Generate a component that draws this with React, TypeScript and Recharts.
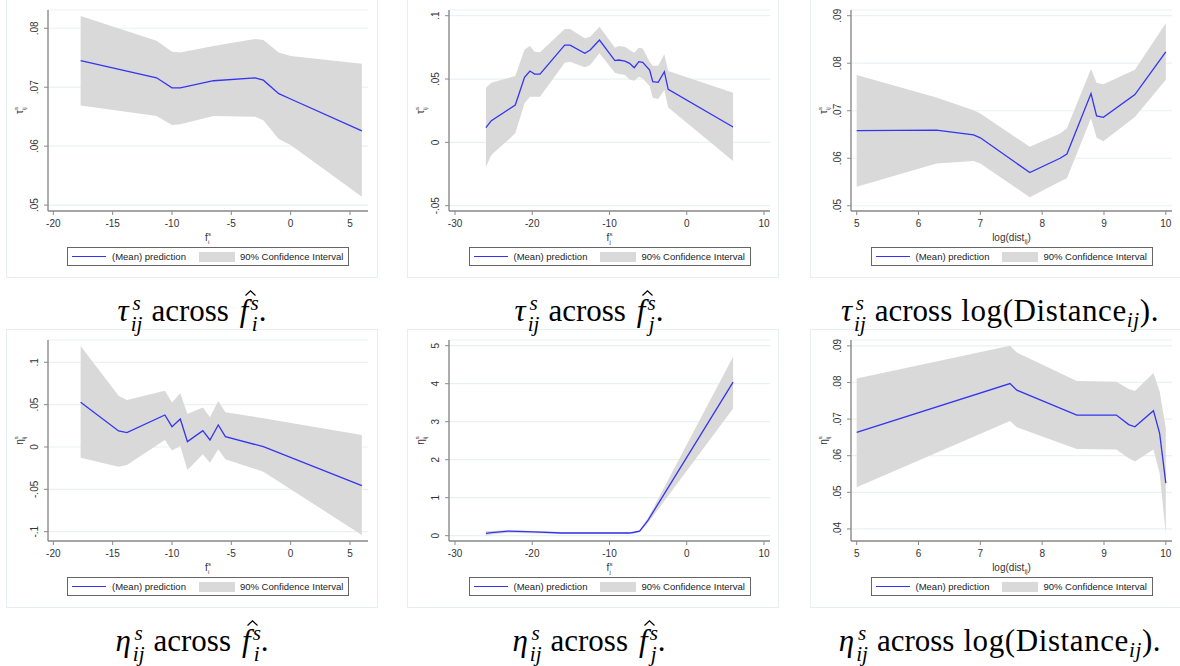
import React from 'react';
import { ComposedChart, Area, Line, XAxis, YAxis, CartesianGrid } from 'recharts';

// tau across f_i
const tauFiX = [-17.7, -11.3, -10.0, -9.3, -6.5, -3.0, -2.3, -1.0, 0.0, 6.0];
const tauFiMean = [0.0745, 0.0716, 0.0699, 0.0699, 0.0711, 0.0716, 0.0712, 0.0689, 0.068, 0.0626];
const tauFiHi = [0.0821, 0.0779, 0.076, 0.0759, 0.077, 0.0782, 0.078, 0.0759, 0.0753, 0.074];
const tauFiLo = [0.0669, 0.0651, 0.0636, 0.0637, 0.0651, 0.065, 0.0644, 0.0612, 0.0602, 0.0514];

// tau across f_j
const tauFjX = [-26.0, -25.3, -22.2, -21.0, -20.3, -19.7, -19.0, -15.8, -15.1, -13.2, -12.5, -11.3, -9.3, -8.8, -8.0, -7.4, -6.8, -6.2, -5.7, -4.8, -4.4, -3.7, -2.9, -2.4, 6.0];
const tauFjMean = [0.0116, 0.0171, 0.0295, 0.0513, 0.0563, 0.0539, 0.0539, 0.0768, 0.0768, 0.0703, 0.0729, 0.0808, 0.0645, 0.065, 0.0642, 0.0624, 0.0589, 0.0637, 0.0632, 0.0571, 0.0479, 0.0474, 0.0558, 0.0418, 0.0121];
const tauFjHi = [0.0432, 0.0471, 0.0524, 0.0734, 0.076, 0.0716, 0.0711, 0.0895, 0.0895, 0.0821, 0.0834, 0.0913, 0.0747, 0.076, 0.0755, 0.0729, 0.0708, 0.0747, 0.0742, 0.0637, 0.0605, 0.0605, 0.0695, 0.0563, 0.0392];
const tauFjLo = [-0.0192, -0.01, 0.0071, 0.0308, 0.0361, 0.0361, 0.0361, 0.0629, 0.0637, 0.0592, 0.0611, 0.0703, 0.055, 0.0539, 0.0532, 0.0497, 0.0487, 0.0518, 0.0505, 0.0445, 0.0353, 0.0342, 0.0413, 0.0276, -0.0147];

// tau across log distance
const tauDistX = [5.0, 6.29, 6.89, 7.0, 7.8, 8.29, 8.4, 8.79, 8.88, 8.99, 9.5, 10.0];
const tauDistMean = [0.0658, 0.0659, 0.0649, 0.0643, 0.057, 0.06, 0.0609, 0.0736, 0.0689, 0.0686, 0.0734, 0.0824];
const tauDistHi = [0.0775, 0.0728, 0.0701, 0.0694, 0.0624, 0.0652, 0.0663, 0.0788, 0.0759, 0.0756, 0.0786, 0.0884];
const tauDistLo = [0.054, 0.0589, 0.0594, 0.0589, 0.0518, 0.0551, 0.0558, 0.0684, 0.0643, 0.0636, 0.0687, 0.0765];

// eta across f_i
const etaFiX = [-17.7, -14.5, -13.8, -10.6, -10.0, -9.3, -8.7, -7.4, -6.8, -6.1, -5.5, -2.3, 6.0];
const etaFiMean = [0.0528, 0.0189, 0.0169, 0.0378, 0.024, 0.0331, 0.0063, 0.0193, 0.0083, 0.026, 0.0122, 0.0004, -0.0457];
const etaFiHi = [0.1193, 0.0606, 0.0555, 0.0665, 0.0524, 0.0634, 0.039, 0.0465, 0.035, 0.0543, 0.0409, 0.0339, 0.0142];
const etaFiLo = [-0.0126, -0.0232, -0.0213, 0.0083, -0.0043, 0.0012, -0.0272, -0.0087, -0.0185, -0.0028, -0.0146, -0.0291, -0.1039];

// eta across f_j
const etaFjX = [-26.0, -25.3, -23.1, -19.7, -16.2, -7.4, -6.8, -6.1, -5.0, 6.0];
const etaFjMean = [0.06, 0.08, 0.12, 0.1, 0.07, 0.07, 0.09, 0.12, 0.41, 4.04];
const etaFjHi = [0.12, 0.12, 0.15, 0.12, 0.1, 0.1, 0.11, 0.15, 0.47, 4.71];
const etaFjLo = [0.0, 0.03, 0.08, 0.06, 0.05, 0.05, 0.06, 0.09, 0.34, 3.35];

// eta across log distance
const etaDistX = [5.0, 7.48, 7.59, 8.56, 9.2, 9.4, 9.5, 9.8, 9.9, 10.0];
const etaDistMean = [0.0664, 0.0797, 0.0779, 0.0711, 0.0711, 0.0685, 0.0679, 0.0723, 0.0661, 0.0525];
const etaDistHi = [0.0811, 0.09, 0.0882, 0.0804, 0.0802, 0.0782, 0.0777, 0.0826, 0.0775, 0.0675];
const etaDistLo = [0.0514, 0.0695, 0.0678, 0.0618, 0.0617, 0.0593, 0.0584, 0.0617, 0.0552, 0.0386];

// axis ticks
const fiTicks = [-20, -15, -10, -5, 0, 5];
const fjTicks = [-30, -20, -10, 0, 10];
const distTicks = [5, 6, 7, 8, 9, 10];
const tauFiYTicks = [0.05, 0.06, 0.07, 0.08];
const tauFjYTicks = [-0.05, 0, 0.05, 0.1];
const tauDistYTicks = [0.05, 0.06, 0.07, 0.08, 0.09];
const etaFiYTicks = [-0.1, -0.05, 0, 0.05, 0.1];
const etaFjYTicks = [0, 1, 2, 3, 4, 5];
const etaDistYTicks = [0.04, 0.05, 0.06, 0.07, 0.08, 0.09];

const legendLabels = ['(Mean) prediction', '90% Confidence Interval'];

const SANS = '"Liberation Sans", Arial, sans-serif';
const SERIF = '"Liberation Serif", "DejaVu Serif", serif';
const LINE = '#3434f2';
const BAND = '#d9d9d9';
const AXIS = '#8a8a8a';
const GRID = '#e9f2f3';
const TXT = '#333';

// stata style: .05, -.1, 0
const fmt = (v: number) => {
  if (v === 0) return '0';
  const s = String(Math.abs(v)).replace(/^0\./, '.');
  return (v < 0 ? '-' : '') + s;
};

const XTick = (props: any) => {
  const { x, y, payload } = props;
  return (
    <text x={x} y={y} dy="0.71em" textAnchor="middle" fontSize={10} fill={TXT} fontFamily={SANS}>
      {fmt(payload.value)}
    </text>
  );
};

const YTick = (props: any) => {
  const { x, y, payload } = props;
  const cx = x - 5;
  return (
    <text x={cx} y={y} dy="0.35em" textAnchor="middle" fontSize={10} fill={TXT} fontFamily={SANS}
      transform={`rotate(-90 ${cx} ${y})`}>
      {fmt(payload.value)}
    </text>
  );
};

const YTitle = ({ viewBox, sym }: any) => {
  const cx = viewBox.x + 12;
  const cy = viewBox.y + viewBox.height / 2;
  return (
    <text x={cx} y={cy} dy="0.35em" textAnchor="middle" fontSize={10} fill={TXT} fontFamily={SANS}
      transform={`rotate(-90 ${cx} ${cy})`}>
      {sym}
      <tspan fontSize={6} dy={-5}>s</tspan>
      <tspan fontSize={6} dx={-3} dy={8}>ij</tspan>
    </text>
  );
};

const XTitle = ({ viewBox, kind }: any) => {
  const cx = viewBox.x + viewBox.width / 2;
  const cy = viewBox.y + 26;
  if (kind === 'dist') {
    return (
      <text x={cx} y={cy} dy="0.35em" textAnchor="middle" fontSize={10} fill={TXT} fontFamily={SANS}>
        log(dist<tspan fontSize={7} dy={3}>ij</tspan><tspan dy={-3}>)</tspan>
      </text>
    );
  }
  return (
    <text x={cx} y={cy} dy="0.35em" textAnchor="middle" fontSize={10} fill={TXT} fontFamily={SANS}>
      f<tspan fontSize={6} dy={-5}>s</tspan>
      <tspan fontSize={6} dx={-3} dy={8}>{kind === 'fi' ? 'i' : 'j'}</tspan>
    </text>
  );
};

type PanelProps = {
  left: number;
  top: number;
  width: number;
  plotLeft: number;
  plotRight: number;
  xDomain: [number, number];
  xTicks: number[];
  yDomain: [number, number];
  yTicks: number[];
  xs: number[];
  mean: number[];
  lo: number[];
  hi: number[];
  sym: string;
  xKind: 'fi' | 'fj' | 'dist';
};

const ChartLegend = ({ center }: { center: number }) => (
  <div style={{
    position: 'absolute', left: center - 141, top: 247, width: 282, height: 19, boxSizing: 'border-box',
    border: '1px solid #666', fontFamily: SANS, fontSize: 9.5, color: '#222', display: 'flex', alignItems: 'center',
  }}>
    <div style={{ marginLeft: 4, width: 34, height: 0, borderTop: `1.3px solid ${LINE}` }} />
    <span style={{ marginLeft: 6 }}>{legendLabels[0]}</span>
    <div style={{ marginLeft: 13, width: 36, height: 10, background: BAND }} />
    <span style={{ marginLeft: 5 }}>{legendLabels[1]}</span>
  </div>
);

const Panel = (p: PanelProps) => {
  const rows = p.xs.map((x, i) => ({ x, mean: p.mean[i], band: [p.lo[i], p.hi[i]] }));
  const yAxisW = p.plotLeft - p.left;
  const rightM = p.left + p.width - p.plotRight;
  return (
    <div style={{ position: 'absolute', left: p.left, top: p.top, width: p.width, height: 277, outline: '1px solid #e6eef0' }}>
      <ComposedChart width={p.width} height={245} data={rows} margin={{ top: 10, right: rightM, left: 0, bottom: 0 }}>
        <CartesianGrid horizontal vertical={false} stroke={GRID} strokeWidth={1.2} />
        <XAxis type="number" dataKey="x" domain={p.xDomain} ticks={p.xTicks} allowDataOverflow interval={0}
          height={34} tickSize={4} tickMargin={5} tick={<XTick />}
          axisLine={{ stroke: AXIS, strokeWidth: 1.4 }} tickLine={{ stroke: AXIS }}
          label={{ content: (lp: any) => <XTitle viewBox={lp.viewBox} kind={p.xKind} /> }} />
        <YAxis type="number" domain={p.yDomain} ticks={p.yTicks} allowDataOverflow interval={0}
          width={yAxisW} tickSize={4} tickMargin={4} tick={<YTick />}
          axisLine={{ stroke: AXIS, strokeWidth: 1.4 }} tickLine={{ stroke: AXIS }}
          label={{ content: (lp: any) => <YTitle viewBox={lp.viewBox} sym={p.sym} /> }} />
        <Area type="linear" dataKey="band" stroke="none" fill={BAND} fillOpacity={1} isAnimationActive={false} />
        <Line type="linear" dataKey="mean" stroke={LINE} strokeWidth={1.3} dot={false} activeDot={false} isAnimationActive={false} />
      </ComposedChart>
      <ChartLegend center={(p.plotLeft + p.plotRight) / 2 - p.left} />
    </div>
  );
};

const SupSub = ({ sup, sub }: { sup: string; sub: string }) => (
  <span style={{
    display: 'inline-flex', flexDirection: 'column', verticalAlign: '0.5em', fontSize: '0.68em',
    lineHeight: 1, fontStyle: 'italic', marginLeft: 2,
  }}>
    <span>{sup}</span>
    <span>{sub}</span>
  </span>
);

// hat drawn as a small caret so it is not a separate glyph on top of the f
const HatF = () => (
  <span style={{ position: 'relative', fontStyle: 'italic', marginLeft: 2 }}>
    f
    <svg width={11} height={6} style={{ position: 'absolute', left: 5, top: -3 }}>
      <polyline points="0.5,5.5 5.5,0.8 10.5,5.5" fill="none" stroke="#000" strokeWidth={1.2} />
    </svg>
  </span>
);

const Caption = ({ center, top, sym, kind }: { center: number; top: number; sym: string; kind: 'fi' | 'fj' | 'dist' }) => (
  <div style={{
    position: 'absolute', left: center - 250, width: 500, top, textAlign: 'center',
    fontFamily: SERIF, fontSize: 31, color: '#000', lineHeight: '32px', whiteSpace: 'nowrap',
  }}>
    <i>{sym}</i><SupSub sup="s" sub="ij" />
    <span style={{ marginLeft: 9, marginRight: 9 }}>across</span>
    {kind === 'dist' ? (
      <span style={{ letterSpacing: 0.6 }}>log(Distance<span style={{ fontSize: '0.68em', fontStyle: 'italic', verticalAlign: '-0.3em' }}>ij</span>).</span>
    ) : (
      <span><HatF /><SupSub sup="s" sub={kind === 'fi' ? 'i' : 'j'} />.</span>
    )}
  </div>
);

const App = () => {
  const cols = [
    { left: 7, width: 370, plotLeft: 48, plotRight: 368, xDomain: [-20.45, 6.52] as [number, number], xTicks: fiTicks, kind: 'fi' as const },
    { left: 408, width: 370, plotLeft: 449, plotRight: 770, xDomain: [-30.78, 10.78] as [number, number], xTicks: fjTicks, kind: 'fj' as const },
    { left: 811, width: 369, plotLeft: 851, plotRight: 1172, xDomain: [4.908, 10.1] as [number, number], xTicks: distTicks, kind: 'dist' as const },
  ];
  const tauSeries = [
    { xs: tauFiX, mean: tauFiMean, lo: tauFiLo, hi: tauFiHi, yDomain: [0.049, 0.0831] as [number, number], yTicks: tauFiYTicks },
    { xs: tauFjX, mean: tauFjMean, lo: tauFjLo, hi: tauFjHi, yDomain: [-0.0542, 0.1045] as [number, number], yTicks: tauFjYTicks },
    { xs: tauDistX, mean: tauDistMean, lo: tauDistLo, hi: tauDistHi, yDomain: [0.0489, 0.0912] as [number, number], yTicks: tauDistYTicks },
  ];
  const etaSeries = [
    { xs: etaFiX, mean: etaFiMean, lo: etaFiLo, hi: etaFiHi, yDomain: [-0.111, 0.1263] as [number, number], yTicks: etaFiYTicks },
    { xs: etaFjX, mean: etaFjMean, lo: etaFjLo, hi: etaFjHi, yDomain: [-0.14, 5.15] as [number, number], yTicks: etaFjYTicks },
    { xs: etaDistX, mean: etaDistMean, lo: etaDistLo, hi: etaDistHi, yDomain: [0.0367, 0.0916] as [number, number], yTicks: etaDistYTicks },
  ];
  const captionCenters = [192, 589, 1000];

  return (
    <div style={{ position: 'absolute', left: 0, top: 0, width: 1180, height: 666, background: '#fff', overflow: 'hidden' }}>
      {cols.map((c, i) => (
        <Panel key={`t${i}`} left={c.left} top={0} width={c.width} plotLeft={c.plotLeft} plotRight={c.plotRight}
          xDomain={c.xDomain} xTicks={c.xTicks} {...tauSeries[i]} sym="τ" xKind={c.kind} />
      ))}
      {cols.map((c, i) => (
        <Panel key={`e${i}`} left={c.left} top={330} width={c.width} plotLeft={c.plotLeft} plotRight={c.plotRight}
          xDomain={c.xDomain} xTicks={c.xTicks} {...etaSeries[i]} sym="η" xKind={c.kind} />
      ))}
      {cols.map((c, i) => (
        <Caption key={`ct${i}`} center={captionCenters[i]} top={293} sym="τ" kind={c.kind} />
      ))}
      {cols.map((c, i) => (
        <Caption key={`ce${i}`} center={captionCenters[i]} top={623} sym="η" kind={c.kind} />
      ))}
    </div>
  );
};

export default App;
